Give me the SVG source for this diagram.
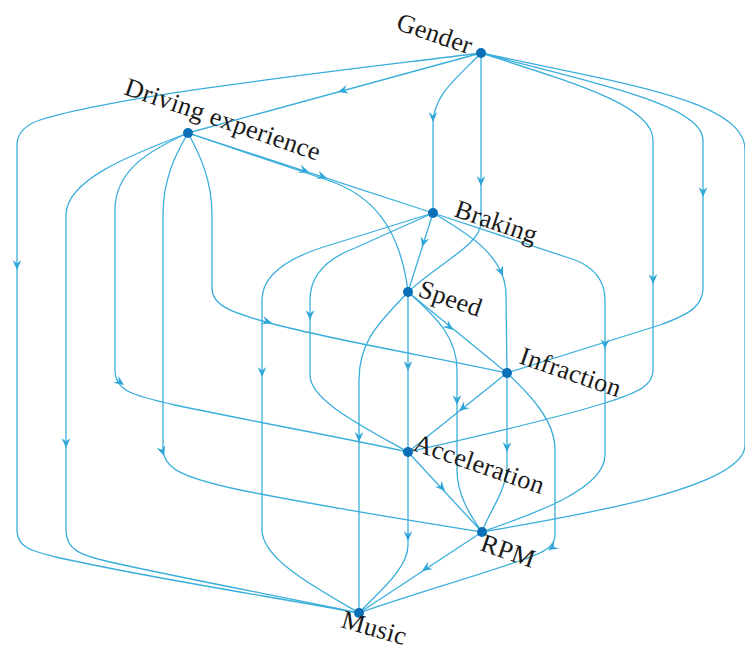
<svg xmlns="http://www.w3.org/2000/svg" xmlns:xlink="http://www.w3.org/1999/xlink" width="745" height="650" viewBox="0 0 745 650">
<style>
.e{fill:none;stroke:#3aaedb;stroke-width:1.3}
.a{fill:#2ea6d8}
.n{fill:#0b6fb8}
.t{font-family:"Liberation Serif","Times New Roman",serif;font-size:26px;fill:#1a1a1a;letter-spacing:0.3px}
</style>
<defs>
<path id="ah" d="M0,0 L-10,-4.4 L-6.5,0 L-10,4.4 Z"/>
</defs>
<rect width="745" height="650" fill="#ffffff"/>
<g id="connectors">
<path class="e" d="M481,53 L188,133"/>
<path class="e" d="M481,53 C330,72 120,95 40,120 Q17,128 17,145 L17,530 C17,547 30,551 60,558 C160,580 280,598 359,613"/>
<path class="e" d="M481,53 C455,80 433,95 433,125 L433,213"/>
<path class="e" d="M481,53 L481,222 C481,245 440,262 408,292"/>
<path class="e" d="M481,53 C570,82 653,105 653,140 L653,370 C653,385 640,392 605,403 C540,423 460,440 408,452"/>
<path class="e" d="M481,53 C600,85 703,105 703,140 L703,288 C703,306 690,314 660,325 L507,373"/>
<path class="e" d="M481,53 C620,83 745,100 745,150 L745,445 C745,490 560,518 482,532"/>
<path class="e" d="M188,133 L330,181 C370,195 400,225 408,292"/>
<path class="e" d="M188,133 L433,213"/>
<path class="e" d="M188,133 C200,155 212,180 212,215 L212,288 C212,305 230,312 266,322 C330,340 440,358 507,373"/>
<path class="e" d="M188,133 C175,155 163,180 163,215 L163,448 C163,468 180,477 240,490 C330,508 420,522 482,532"/>
<path class="e" d="M188,133 C150,150 115,170 115,210 L115,370 C115,390 130,395 175,405 C260,423 340,437 408,452"/>
<path class="e" d="M188,133 C130,155 66,180 66,215 L66,530 C66,550 80,555 110,562 C200,582 300,600 359,613"/>
<path class="e" d="M433,213 L408,292"/>
<path class="e" d="M433,213 C465,232 506,255 506,295 L507,373"/>
<path class="e" d="M433,213 L575,260 Q605,272 605,300 L605,455 C605,490 530,515 482,532"/>
<path class="e" d="M433,213 L355,248 Q310,265 310,300 L310,375 C310,400 360,425 408,452"/>
<path class="e" d="M433,213 L330,245 Q262,265 262,300 L262,530 C262,560 320,590 359,613"/>
<path class="e" d="M408,292 L507,373"/>
<path class="e" d="M408,292 L408,452"/>
<path class="e" d="M408,292 C440,320 457,340 457,370 L457,470 C457,495 470,515 482,532"/>
<path class="e" d="M408,292 C380,322 359,340 359,380 L359,613"/>
<path class="e" d="M507,373 L408,452"/>
<path class="e" d="M507,373 L507,465 C507,490 490,510 482,532"/>
<path class="e" d="M507,373 C530,395 555,420 555,450 L555,535 C555,546 545,552 525,559 C470,578 400,598 359,613"/>
<path class="e" d="M408,452 L482,532"/>
<path class="e" d="M408,452 L408,545 C408,570 375,595 359,613"/>
<path class="e" d="M482,532 L359,613"/>
<g class="a">
<use href="#ah" transform="translate(338,92) rotate(164.7)"/>
<use href="#ah" transform="translate(17,270) rotate(90)"/>
<use href="#ah" transform="translate(433,122) rotate(90)"/>
<use href="#ah" transform="translate(481,186) rotate(90)"/>
<use href="#ah" transform="translate(653,284) rotate(90)"/>
<use href="#ah" transform="translate(703,197) rotate(90)"/>
<use href="#ah" transform="translate(309,172) rotate(18.1)"/>
<use href="#ah" transform="translate(327,178) rotate(18.1)"/>
<use href="#ah" transform="translate(272,323) rotate(15.5)"/>
<use href="#ah" transform="translate(164,456) rotate(72)"/>
<use href="#ah" transform="translate(124,385) rotate(35)"/>
<use href="#ah" transform="translate(66,448) rotate(90)"/>
<use href="#ah" transform="translate(422,247) rotate(107.6)"/>
<use href="#ah" transform="translate(503,276) rotate(67)"/>
<use href="#ah" transform="translate(605,349) rotate(90)"/>
<use href="#ah" transform="translate(310,320) rotate(90)"/>
<use href="#ah" transform="translate(262,377) rotate(90)"/>
<use href="#ah" transform="translate(453,330) rotate(39.3)"/>
<use href="#ah" transform="translate(408,371) rotate(90)"/>
<use href="#ah" transform="translate(457,405) rotate(90)"/>
<use href="#ah" transform="translate(359,442) rotate(90)"/>
<use href="#ah" transform="translate(459,411) rotate(141.4)"/>
<use href="#ah" transform="translate(507,452) rotate(90)"/>
<use href="#ah" transform="translate(548,550) rotate(150)"/>
<use href="#ah" transform="translate(445,491) rotate(47.2)"/>
<use href="#ah" transform="translate(408,541) rotate(90)"/>
<use href="#ah" transform="translate(422,571) rotate(146.6)"/>
</g>
</g>
<g id="gender"><circle class="n" cx="481" cy="53" r="5"/><text class="t" transform="translate(395,29) rotate(19)">Gender</text></g>
<g id="driving-experience"><circle class="n" cx="188" cy="133" r="5"/><text class="t" transform="translate(123,94) rotate(19)">Driving experience</text></g>
<g id="braking"><circle class="n" cx="433" cy="213" r="5"/><text class="t" transform="translate(453,216) rotate(19)">Braking</text></g>
<g id="speed"><circle class="n" cx="408" cy="292" r="5"/><text class="t" transform="translate(417,296) rotate(19)">Speed</text></g>
<g id="infraction"><circle class="n" cx="507" cy="373" r="5"/><text class="t" transform="translate(518,363) rotate(19)">Infraction</text></g>
<g id="acceleration"><circle class="n" cx="408" cy="452" r="5"/><text class="t" transform="translate(412,450) rotate(19)">Acceleration</text></g>
<g id="rpm"><circle class="n" cx="482" cy="532" r="5"/><text class="t" transform="translate(479,550) rotate(19)">RPM</text></g>
<g id="music"><circle class="n" cx="359" cy="613" r="5"/><text class="t" transform="translate(340,627) rotate(16)">Music</text></g>
</svg>
